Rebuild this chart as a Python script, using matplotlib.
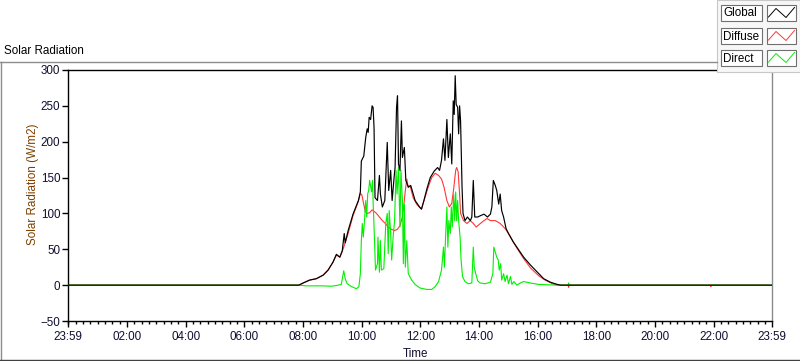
import numpy as np
import matplotlib
matplotlib.use('Agg')
import matplotlib.pyplot as plt
from matplotlib.patches import Rectangle
from matplotlib.lines import Line2D
from matplotlib.ticker import MultipleLocator

plt.rcParams['font.family'] = ['Liberation Sans', 'DejaVu Sans']

# readings (time of day, W/m2)
global_t = ["00:00", "07:51", "08:00", "08:13", "08:27", "08:41", "08:51", "09:01", "09:08", "09:15",
            "09:20", "09:24", "09:26", "09:32", "09:42", "09:53", "09:57", "09:59", "10:04", "10:08",
            "10:11", "10:13", "10:15", "10:18", "10:21", "10:23", "10:25", "10:27", "10:32", "10:36",
            "10:38", "10:42", "10:47", "10:52", "10:55", "10:59", "11:02", "11:06", "11:08", "11:11",
            "11:13", "11:15", "11:18", "11:21", "11:23", "11:27", "11:30", "11:35", "11:40", "11:49",
            "11:58", "12:02", "12:07", "12:13", "12:20", "12:28", "12:35", "12:39", "12:43", "12:47",
            "12:50", "12:54", "12:57", "13:01", "13:04", "13:07", "13:09", "13:11", "13:13", "13:16",
            "13:18", "13:20", "13:22", "13:25", "13:27", "13:31", "13:36", "13:42", "13:45", "13:48",
            "13:51", "13:57", "14:03", "14:10", "14:17", "14:23", "14:26", "14:29", "14:33", "14:36",
            "14:40", "14:43", "14:46", "14:50", "14:55", "15:00", "15:04", "15:10", "15:17", "15:31",
            "15:45", "16:02", "16:12", "16:26", "16:40", "16:46", "23:59"]
global_v = [0, 0, 3, 7, 9, 14, 21, 32, 43, 39,
            48, 72, 59, 76, 99, 118, 130, 173, 180, 206,
            218, 213, 234, 231, 250, 248, 220, 122, 118, 153,
            127, 109, 118, 199, 132, 160, 118, 150, 164, 248,
            264, 169, 160, 229, 178, 192, 146, 137, 139, 118,
            109, 106, 118, 134, 150, 159, 164, 160, 174, 204,
            174, 231, 178, 211, 169, 257, 238, 292, 252, 248,
            211, 250, 229, 137, 100, 90, 95, 90, 95, 146,
            95, 95, 97, 99, 95, 99, 109, 146, 139, 132,
            113, 127, 104, 95, 79, 72, 67, 60, 53, 39,
            28, 16, 9, 4, 1, 0, 0]

diffuse_t = ["00:00", "07:51", "08:00", "08:13", "08:27", "08:41", "08:51", "09:01", "09:08", "09:15",
             "09:20", "09:24", "09:32", "09:42", "09:53", "09:57", "10:00", "10:03", "10:07", "10:11",
             "10:16", "10:21", "10:25", "10:30", "10:36", "10:42", "10:48", "10:54", "11:00", "11:07",
             "11:13", "11:18", "11:23", "11:26", "11:29", "11:32", "11:35", "11:39", "11:45", "11:52",
             "11:59", "12:02", "12:09", "12:16", "12:23", "12:30", "12:37", "12:43", "12:48", "12:54",
             "12:59", "13:04", "13:08", "13:12", "13:14", "13:17", "13:20", "13:22", "13:28", "13:35",
             "13:42", "13:48", "13:54", "13:59", "14:06", "14:16", "14:23", "14:33", "14:43", "14:53",
             "15:03", "15:10", "15:17", "15:31", "15:45", "16:02", "16:15", "16:30", "16:40", "17:02",
             "17:03", "17:04", "21:53", "21:54", "21:55", "23:59"]
diffuse_v = [0, 0, 3, 7, 9, 14, 21, 32, 42, 39,
             47, 55, 72, 97, 117, 128, 126, 116, 103, 100,
             101, 105, 103, 100, 95, 90, 86, 81, 78, 76,
             78, 83, 95, 112, 132, 148, 136, 138, 122, 113,
             108, 106, 122, 137, 150, 156, 153, 148, 137, 118,
             109, 114, 135, 160, 164, 158, 127, 100, 90, 86,
             90, 86, 81, 84, 88, 93, 90, 90, 86, 79,
             69, 60, 52, 37, 24, 13, 7, 2, 0, 0,
             -3, 0, 0, -2, 0, 0]

direct_t = ["00:00", "07:51", "08:06", "08:20", "08:40", "08:58", "09:08", "09:18", "09:23", "09:26",
            "09:30", "09:39", "09:49", "09:54", "09:57", "09:59", "10:01", "10:03", "10:06", "10:08",
            "10:10", "10:12", "10:14", "10:16", "10:20", "10:22", "10:23", "10:25", "10:28", "10:32",
            "10:33", "10:36", "10:38", "10:40", "10:45", "10:49", "10:52", "10:54", "10:56", "10:59",
            "11:01", "11:04", "11:07", "11:10", "11:12", "11:15", "11:18", "11:20", "11:23", "11:25",
            "11:27", "11:29", "11:32", "11:35", "11:42", "11:49", "11:59", "12:13", "12:23", "12:30",
            "12:37", "12:43", "12:47", "12:49", "12:51", "12:54", "12:56", "12:58", "13:01", "13:03",
            "13:05", "13:08", "13:10", "13:12", "13:14", "13:16", "13:18", "13:21", "13:23", "13:26",
            "13:31", "13:38", "13:45", "13:48", "13:50", "13:53", "13:57", "14:02", "14:12", "14:23",
            "14:28", "14:30", "14:33", "14:36", "14:39", "14:41", "14:44", "14:46", "14:50", "14:53",
            "14:57", "15:00", "15:04", "15:07", "15:11", "15:17", "15:24", "15:31", "15:45", "16:02",
            "16:40", "17:02", "17:03", "17:04", "23:59"]
direct_v = [0, 0, -1, -1, -1, -1.5, -0.5, 1, 20, 9,
            2, -2, -5, -2, 16, 62, 86, 67, 95, 118,
            95, 127, 132, 146, 130, 146, 118, 81, 21, 30,
            67, 18, 62, 21, 23, 86, 100, 44, 104, 72,
            35, 67, 90, 160, 127, 164, 81, 160, 118, 30,
            113, 25, 62, 16, 7, 1, -4, -6, -6, -2,
            5, 21, 53, 25, 62, 109, 53, 90, 72, 109,
            81, 127, 90, 130, 90, 118, 90, 67, 35, 12,
            5, 2, 3, 53, 25, 16, 6, 3, 2, 4,
            16, 53, 46, 39, 35, 21, 30, 7, 16, 5,
            14, 2, 12, 1, 5, 0, 3, 5, 3, 1,
            0, 0, 3, 0, 0]

tick_labels = ["23:59", "02:00", "04:00", "06:00", "08:00", "10:00", "12:00",
               "14:00", "16:00", "18:00", "20:00", "22:00", "23:59"]
legend_names = ["Global", "Diffuse", "Direct"]
colors = ["#000000", "#ff3636", "#00f000"]


def to_min(t):
    h, m = t.split(":")
    return int(h) * 60 + int(m)


def tick_pos(t, i):
    # first label is 23:59 of previous day
    return -1 if i == 0 else to_min(t)


W, H = 800, 361
fig = plt.figure(figsize=(W / 100, H / 100), dpi=100)


def fx(x):
    return x / W


def fy(y):
    return 1 - y / H


ax = fig.add_axes([fx(68), fy(321), (772 - 68) / W, (321 - 70) / H])

ax.plot([to_min(t) for t in diffuse_t], diffuse_v, color=colors[1], lw=0.8, zorder=2)
ax.plot([to_min(t) for t in direct_t], direct_v, color=colors[2], lw=0.8, zorder=3)
ax.plot([to_min(t) for t in global_t], global_v, color=colors[0], lw=0.85, zorder=4)

ax.set_xlim(-1, 1439)
ax.set_ylim(-50, 300)
ax.set_yticks(range(-50, 301, 50))
ax.set_xticks([tick_pos(t, i) for i, t in enumerate(tick_labels)])
ax.set_xticklabels(tick_labels)
ax.xaxis.set_minor_locator(MultipleLocator(15))

for s in ['left', 'top', 'bottom']:
    ax.spines[s].set_color('black')
    ax.spines[s].set_linewidth(1.0)
ax.spines['right'].set_color('#8a8a8a')
ax.spines['right'].set_linewidth(1.0)

lab_col = '#101030'
ax.tick_params(axis='both', which='major', direction='out', length=4, width=1,
               color='black', labelsize=8.4, labelcolor=lab_col)
ax.tick_params(axis='x', which='major', pad=3)
ax.tick_params(axis='y', which='major', pad=1.5)
ax.tick_params(axis='x', which='minor', direction='out', length=2.2, width=1, color='black')

fig.text(fx(33), fy(184), "Solar Radiation (W/m2)", rotation=90, ha='center', va='center',
         fontsize=8.4, color='#7f3f00')
fig.text(fx(415), fy(354), "Time", ha='center', va='center', fontsize=8.4, color=lab_col)
fig.text(fx(4), fy(51), "Solar Radiation", ha='left', va='center', fontsize=8.4, color='black')

# outer frame
fig.add_artist(Line2D([fx(0), fx(717)], [fy(61.5), fy(61.5)], color='#8c8c8c', lw=1))
fig.add_artist(Line2D([fx(0.5), fx(0.5)], [fy(61.5), fy(360)], color='#8c8c8c', lw=1))
fig.add_artist(Line2D([fx(0), fx(800)], [fy(359.5), fy(359.5)], color='#404040', lw=1))

# legend panel
fig.add_artist(Rectangle((fx(717), fy(72)), (800 - 717) / W, 72 / H, transform=fig.transFigure,
                         facecolor='#f7f7f7', edgecolor='#c8c8c8', lw=0.8))
rows = [5, 28, 50]
for name, c, y0 in zip(legend_names, colors, rows):
    fig.add_artist(Rectangle((fx(721), fy(y0 + 16)), 41 / W, 16 / H, transform=fig.transFigure,
                             facecolor='white', edgecolor='#707070', lw=0.8))
    fig.text(fx(723), fy(y0 + 8.5), name, ha='left', va='center', fontsize=8.4, color='black')
    fig.add_artist(Rectangle((fx(767), fy(y0 + 16)), 29 / W, 16 / H, transform=fig.transFigure,
                             facecolor='white', edgecolor='#707070', lw=0.8))
    zx = [768.5, 776, 786, 794.5]
    zy = [y0 + 12, y0 + 3.5, y0 + 12.5, y0 + 2.5]
    fig.add_artist(Line2D([fx(v) for v in zx], [fy(v) for v in zy], color=c, lw=0.7))

fig.savefig('out.png', dpi=100)
